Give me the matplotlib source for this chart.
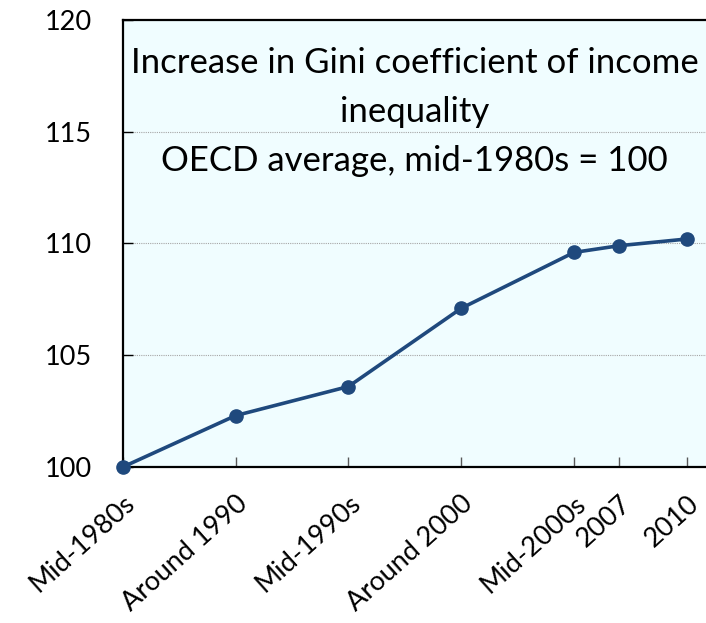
import matplotlib
matplotlib.use('Agg')
import matplotlib.pyplot as plt

plt.rcParams['font.family'] = ['Lato', 'DejaVu Sans']

# ── data ─────────────────────────────────────────────
years  = [1985, 1990, 1995, 2000, 2005, 2007, 2010]
labels = ["Mid-1980s", "Around 1990", "Mid-1990s", "Around 2000",
          "Mid-2000s", "2007", "2010"]
gini   = [100.0, 102.3, 103.6, 107.1, 109.6, 109.9, 110.2]
yticks = [100, 105, 110, 115, 120]

LINE_COLOR = "#1F497D"
BG_COLOR   = "#F0FDFF"

fig = plt.figure(figsize=(7.06, 6.23), dpi=100)
ax = fig.add_axes([0.174, 0.2504, 0.826, 0.7176])
ax.set_facecolor(BG_COLOR)

ax.plot(years, gini, color=LINE_COLOR, linewidth=2.6, marker='o',
        markersize=9.5, zorder=5, clip_on=False)

ax.set_xlim(1985, 2010.85)
ax.set_ylim(100, 120)
ax.set_yticks(yticks)
ax.set_xticks(years)
ax.set_xticklabels(labels, rotation=42, ha='right', rotation_mode='anchor')

for y in yticks[1:-1]:
    ax.axhline(y, color='#A6A6A6', linestyle=(0, (1, 1)), linewidth=0.8, zorder=1)

ax.spines['right'].set_visible(False)
for s in ['left', 'top', 'bottom']:
    ax.spines[s].set_linewidth(1.6)
    ax.spines[s].set_color('black')

ax.tick_params(axis='y', direction='in', length=7, width=1, colors='black',
               labelsize=19.5, pad=22)
ax.tick_params(axis='x', direction='in', length=7, width=1, color='#595959',
               labelcolor='black', labelsize=19.5, pad=17)

ax.text(0.5, 0.94, "Increase in Gini coefficient of income\ninequality\nOECD average, mid-1980s = 100",
        transform=ax.transAxes, ha='center', va='top', fontsize=25,
        linespacing=1.65, color='black')

fig.savefig("out.png", dpi=100, facecolor='white')
